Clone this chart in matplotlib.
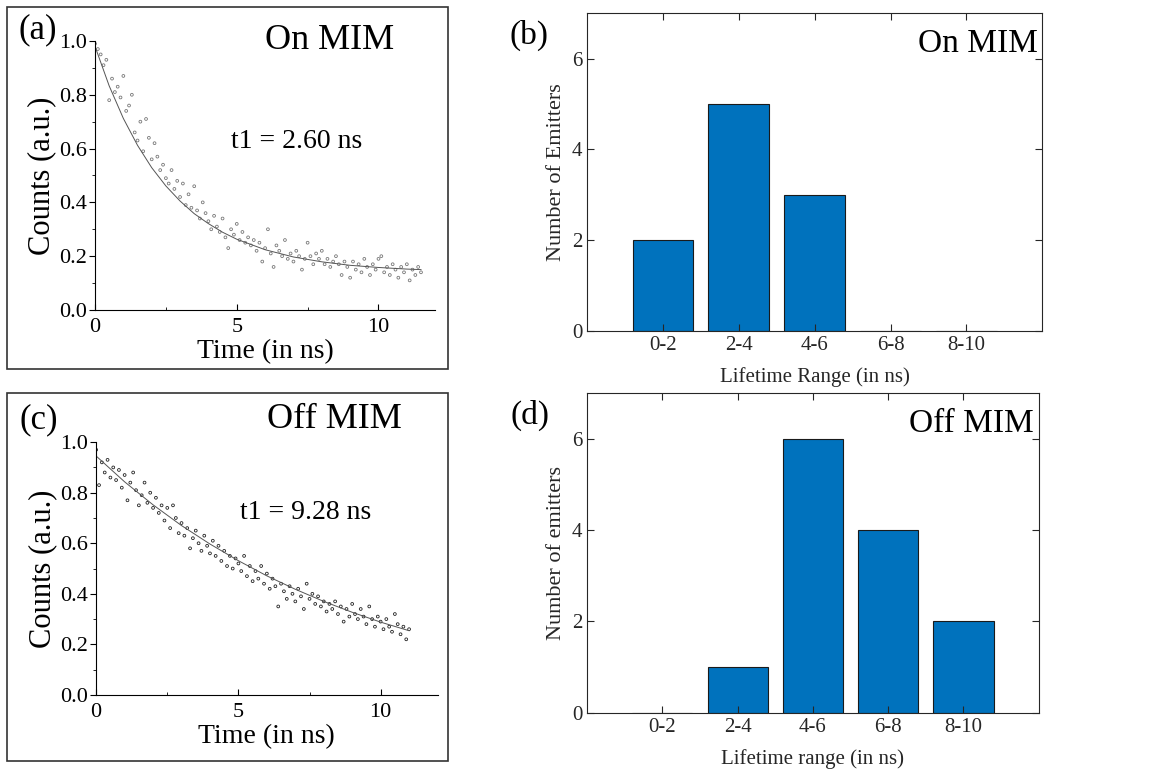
import matplotlib.pyplot as plt
from matplotlib.patches import Rectangle
from matplotlib.ticker import MultipleLocator

plt.rcParams['font.family'] = ['Liberation Serif', 'DejaVu Serif']

# ---- (a) On MIM decay ----
t_a = [0.0, 0.1, 0.2, 0.3, 0.4, 0.5, 0.6, 0.7, 0.8, 0.9,
       1.0, 1.1, 1.2, 1.3, 1.4, 1.5, 1.6, 1.7, 1.8, 1.9,
       2.0, 2.1, 2.2, 2.3, 2.4, 2.5, 2.6, 2.7, 2.8, 2.9,
       3.0, 3.1, 3.2, 3.3, 3.4, 3.5, 3.6, 3.7, 3.8, 3.9,
       4.0, 4.1, 4.2, 4.3, 4.4, 4.5, 4.6, 4.7, 4.8, 4.9,
       5.0, 5.1, 5.2, 5.3, 5.4, 5.5, 5.6, 5.7, 5.8, 5.9,
       6.0, 6.1, 6.2, 6.3, 6.4, 6.5, 6.6, 6.7, 6.8, 6.9,
       7.0, 7.1, 7.2, 7.3, 7.4, 7.5, 7.6, 7.7, 7.8, 7.9,
       8.0, 8.1, 8.2, 8.3, 8.4, 8.5, 8.6, 8.7, 8.8, 8.9,
       9.0, 9.1, 9.2, 9.3, 9.4, 9.5, 9.6, 9.7, 9.8, 9.9,
       10.0, 10.1, 10.2, 10.3, 10.4, 10.5, 10.6, 10.7, 10.8, 10.9,
       11.0, 11.1, 11.2, 11.3, 11.4, 11.5]
counts_a = [0.99, 0.97, 0.95, 0.91, 0.93, 0.78, 0.86, 0.81, 0.83, 0.79,
            0.87, 0.74, 0.76, 0.80, 0.66, 0.63, 0.70, 0.59, 0.71, 0.64,
            0.56, 0.62, 0.57, 0.52, 0.54, 0.49, 0.47, 0.52, 0.45, 0.48,
            0.42, 0.47, 0.39, 0.43, 0.38, 0.46, 0.37, 0.34, 0.40, 0.36,
            0.33, 0.30, 0.35, 0.31, 0.29, 0.34, 0.27, 0.23, 0.30, 0.28,
            0.32, 0.26, 0.29, 0.25, 0.27, 0.24, 0.26, 0.22, 0.25, 0.18,
            0.23, 0.30, 0.21, 0.16, 0.24, 0.22, 0.20, 0.26, 0.19, 0.21,
            0.18, 0.22, 0.20, 0.15, 0.19, 0.25, 0.20, 0.17, 0.21, 0.19,
            0.22, 0.17, 0.19, 0.16, 0.18, 0.20, 0.17, 0.13, 0.18, 0.16,
            0.12, 0.18, 0.15, 0.17, 0.14, 0.19, 0.16, 0.13, 0.17, 0.15,
            0.19, 0.20, 0.14, 0.16, 0.13, 0.17, 0.15, 0.12, 0.16, 0.14,
            0.17, 0.11, 0.15, 0.13, 0.16, 0.14]
fit_t_a = [0, 0.5, 1, 1.5, 2, 2.5, 3, 3.5, 4, 4.5, 5, 6, 7, 8, 9, 10, 11, 11.5]
fit_a = [0.98, 0.833, 0.712, 0.612, 0.529, 0.461, 0.405, 0.358, 0.321, 0.289,
         0.263, 0.224, 0.197, 0.179, 0.166, 0.158, 0.152, 0.150]

# ---- (c) Off MIM decay ----
t_c = [0.0, 0.1, 0.2, 0.3, 0.4, 0.5, 0.6, 0.7, 0.8, 0.9,
       1.0, 1.1, 1.2, 1.3, 1.4, 1.5, 1.6, 1.7, 1.8, 1.9,
       2.0, 2.1, 2.2, 2.3, 2.4, 2.5, 2.6, 2.7, 2.8, 2.9,
       3.0, 3.1, 3.2, 3.3, 3.4, 3.5, 3.6, 3.7, 3.8, 3.9,
       4.0, 4.1, 4.2, 4.3, 4.4, 4.5, 4.6, 4.7, 4.8, 4.9,
       5.0, 5.1, 5.2, 5.3, 5.4, 5.5, 5.6, 5.7, 5.8, 5.9,
       6.0, 6.1, 6.2, 6.3, 6.4, 6.5, 6.6, 6.7, 6.8, 6.9,
       7.0, 7.1, 7.2, 7.3, 7.4, 7.5, 7.6, 7.7, 7.8, 7.9,
       8.0, 8.1, 8.2, 8.3, 8.4, 8.5, 8.6, 8.7, 8.8, 8.9,
       9.0, 9.1, 9.2, 9.3, 9.4, 9.5, 9.6, 9.7, 9.8, 9.9,
       10.0, 10.1, 10.2, 10.3, 10.4, 10.5, 10.6, 10.7, 10.8, 10.9,
       11.0]
counts_c = [0.97, 0.83, 0.92, 0.88, 0.93, 0.86, 0.90, 0.85, 0.89, 0.82,
            0.87, 0.77, 0.84, 0.88, 0.81, 0.75, 0.79, 0.84, 0.76, 0.80,
            0.74, 0.78, 0.72, 0.75, 0.69, 0.74, 0.66, 0.75, 0.70, 0.64,
            0.68, 0.63, 0.66, 0.58, 0.62, 0.65, 0.60, 0.57, 0.63, 0.59,
            0.56, 0.61, 0.55, 0.59, 0.53, 0.57, 0.51, 0.55, 0.50, 0.54,
            0.52, 0.49, 0.55, 0.47, 0.51, 0.45, 0.49, 0.46, 0.51, 0.44,
            0.48, 0.42, 0.46, 0.43, 0.35, 0.44, 0.41, 0.38, 0.43, 0.40,
            0.37, 0.42, 0.39, 0.34, 0.44, 0.38, 0.40, 0.36, 0.39, 0.35,
            0.37, 0.33, 0.36, 0.34, 0.37, 0.32, 0.35, 0.29, 0.34, 0.31,
            0.36, 0.32, 0.30, 0.34, 0.31, 0.28, 0.35, 0.30, 0.27, 0.31,
            0.29, 0.26, 0.30, 0.27, 0.25, 0.32, 0.28, 0.24, 0.27, 0.22,
            0.26]
fit_t_c = [0, 1, 2, 3, 4, 5, 6, 7, 8, 9, 10, 11]
fit_c = [0.945, 0.843, 0.752, 0.670, 0.597, 0.531, 0.471, 0.418, 0.370,
         0.327, 0.288, 0.254]

# ---- (b), (d) histograms ----
ranges = ["0-2", "2-4", "4-6", "6-8", "8-10"]
n_on = [2, 5, 3, 0, 0]
n_off = [0, 1, 6, 4, 2]

fig = plt.figure(figsize=(11.73, 7.73), dpi=100)

# frames around the left panels
for y0, h in [(0.523, 0.468), (0.015, 0.476)]:
    fig.patches.append(Rectangle((0.006, y0), 0.376, h, transform=fig.transFigure,
                                 fill=False, edgecolor="#333333", linewidth=1.2))


def decay_panel(rect, t, c, ft, fv, tag, title, col, ty, tty):
    ax = fig.add_axes(rect)
    ax.scatter(t, c, s=4, facecolor="none", edgecolor=col, linewidth=0.6)
    ax.plot(ft, fv, color="#555555", linewidth=0.7)
    ax.set_xlim(0, 12)
    ax.set_ylim(0, 1.0)
    ax.spines["top"].set_visible(False)
    ax.spines["right"].set_visible(False)
    ax.xaxis.set_major_locator(MultipleLocator(5))
    ax.xaxis.set_minor_locator(MultipleLocator(2.5))
    ax.yaxis.set_major_locator(MultipleLocator(0.2))
    ax.yaxis.set_minor_locator(MultipleLocator(0.1))
    ax.yaxis.set_major_formatter(plt.FormatStrFormatter("%.1f"))
    ax.tick_params(axis="x", which="both", direction="in", labelsize=16, pad=6)
    ax.tick_params(axis="y", which="both", direction="out", labelsize=16, pad=2)
    ax.tick_params(which="major", length=4)
    ax.tick_params(which="minor", length=2.5)
    ax.set_xlabel("Time (in ns)", fontsize=20, labelpad=1)
    ax.set_ylabel("Counts (a.u.)", fontsize=22, labelpad=2)
    ax.text(-0.225, ty, tag, transform=ax.transAxes, fontsize=25, va="center")
    ax.text(0.50, tty, title, transform=ax.transAxes, fontsize=26, va="center")
    return ax


ax_a = decay_panel([0.081, 0.599, 0.290, 0.348], t_a, counts_a, fit_t_a, fit_a,
                   "(a)", "On MIM", "#777777", 1.04, 1.0)
ax_a.text(0.40, 0.625, "t1 = 2.60 ns", transform=ax_a.transAxes, fontsize=20,
          va="center")
ax_c = decay_panel([0.082, 0.101, 0.291, 0.327], t_c, counts_c, fit_t_c, fit_c,
                   "(c)", "Off MIM", "#222222", 1.09, 1.09)
ax_c.text(0.42, 0.72, "t1 = 9.28 ns", transform=ax_c.transAxes, fontsize=20,
          va="center")


def hist_panel(rect, vals, tag, title, ylab, xlab):
    ax = fig.add_axes(rect)
    pos = [1, 2, 3, 4, 5]
    ax.bar(pos, vals, width=0.8, color="#0072BD", edgecolor="#1a1a1a", linewidth=0.8)
    ax.set_xlim(0, 6)
    ax.set_ylim(0, 7)
    ax.set_xticks(pos)
    ax.set_xticklabels(ranges)
    ax.set_yticks([0, 2, 4, 6])
    ax.tick_params(direction="in", top=True, right=True, labelsize=15,
                   colors="#262626", length=5)
    for s in ax.spines.values():
        s.set_color("#262626")
        s.set_linewidth(0.8)
    ax.set_ylabel(ylab, fontsize=16, color="#262626")
    ax.set_xlabel(xlab, fontsize=15, color="#262626", labelpad=9)
    ax.text(-0.17, 0.93, tag, transform=ax.transAxes, fontsize=24, va="center")
    ax.text(0.99, 0.905, title, transform=ax.transAxes, fontsize=24,
            va="center", ha="right")
    return ax


hist_panel([0.5005, 0.572, 0.388, 0.411], n_on, "(b)", "On MIM",
           "Number of Emitters", "Lifetime Range (in ns)")
hist_panel([0.5005, 0.078, 0.385, 0.413], n_off, "(d)", "Off MIM",
           "Number of emitters", "Lifetime range (in ns)")

fig.savefig("out.png", dpi=100)
